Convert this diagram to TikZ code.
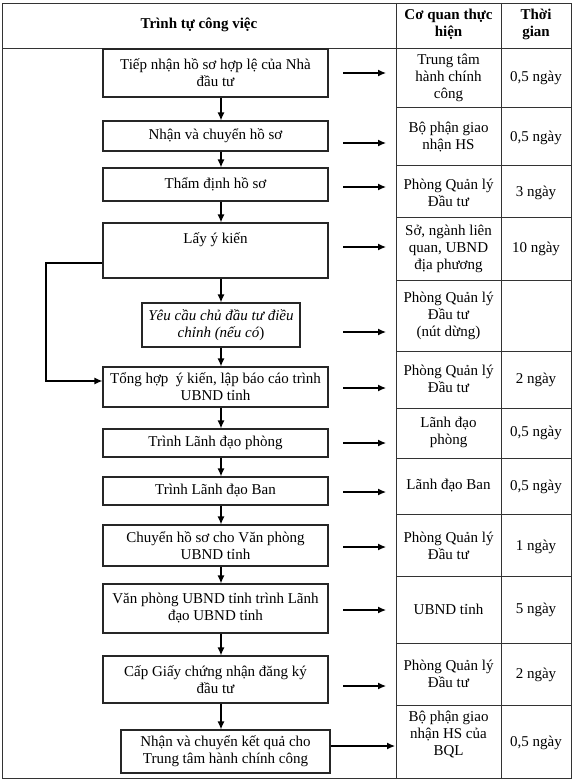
\documentclass[tikz,border=0pt]{standalone}
\usepackage{fontspec}
\setmainfont{Liberation Serif}
\usetikzlibrary{arrows.meta}
\begin{document}
\begin{tikzpicture}[x=1pt,y=-1pt,
  txt/.style={font=\fontsize{15}{17}\selectfont},
  box/.style={draw=black!85,line width=1.2pt,inner sep=0pt,align=center,txt,minimum width=225pt},
  cell/.style={align=center,inner sep=0pt,txt},
  head/.style={align=center,inner sep=0pt,font=\bfseries\fontsize{15}{17}\selectfont},
  grid/.style={draw=black!80,line width=0.9pt},
  arr/.style={line width=1.2pt,-{Latex[length=8pt,width=7pt]}},
  link/.style={line width=1.3pt,-{Latex[length=8pt,width=7pt]}}]
\useasboundingbox (0,0) rectangle (575,784);
% table
\draw[grid] (2,3) rectangle (571,778);
\draw[grid] (2,48) -- (571,48);
\draw[grid] (396,3) -- (396,778);
\draw[grid] (501,3) -- (501,778);
\foreach \y in {107,165,217,280,351,408,458,514,576,643,705}
  \draw[grid] (396,\y) -- (571,\y);
% header
\node[head] (h1) at (199,25) {Trình tự công việc};
\node[head] (h2) at (448.5,24) {Cơ quan thực\\hiện};
\node[head] (h3) at (536,24) {Thời\\gian};
% boxes
\node[box,minimum height=48pt] (b1) at (215.5,73) {Tiếp nhận hồ sơ hợp lệ của Nhà\\đầu tư};
\node[box,minimum height=30pt] (b2) at (215.5,136) {Nhận và chuyển hồ sơ};
\node[box,minimum height=33pt] (b3) at (215.5,184.5) {Thẩm định hồ sơ};
\node[box,minimum height=55pt,text height=11pt,text depth=25pt] (b4) at (215.5,250.5) {Lấy ý kiến};
\node[box,minimum height=44pt,minimum width=158pt] (b5) at (221,325) {\itshape Yêu cầu chủ đầu tư điều\\\itshape chỉnh (nếu có\upshape)};
\node[box,minimum height=40pt] (b6) at (215.5,387) {Tổng hợp\ \ ý kiến, lập báo cáo trình\\UBND tỉnh};
\node[box,minimum height=28pt] (b7) at (215.5,443) {Trình Lãnh đạo phòng};
\node[box,minimum height=28pt] (b8) at (215.5,491) {Trình Lãnh đạo Ban};
\node[box,minimum height=41pt] (b9) at (215.5,545.5) {Chuyển hồ sơ cho Văn phòng\\UBND tỉnh};
\node[box,minimum height=49pt] (b10) at (215.5,608.5) {Văn phòng UBND tỉnh trình Lãnh\\đạo UBND tỉnh};
\node[box,minimum height=47pt] (b11) at (215.5,679.5) {Cấp Giấy chứng nhận đăng ký\\đầu tư};
\node[box,minimum height=43pt,minimum width=209pt] (b12) at (225.5,751.5) {Nhận và chuyển kết quả cho\\Trung tâm hành chính công};
% agency cells
\node[cell] (c1) at (448.5,78) {Trung tâm\\hành chính\\công};
\node[cell] (c2) at (448.5,137) {Bộ phận giao\\nhận HS};
\node[cell] (c3) at (448.5,193) {Phòng Quản lý\\Đầu tư};
\node[cell] (c4) at (448.5,249) {Sở, ngành liên\\quan, UBND\\địa phương};
\node[cell] (c5) at (448.5,316) {Phòng Quản lý\\Đầu tư\\(nút dừng)};
\node[cell] (c6) at (448.5,379) {Phòng Quản lý\\Đầu tư};
\node[cell] (c7) at (448.5,432) {Lãnh đạo\\phòng};
\node[cell] (c8) at (448.5,486) {Lãnh đạo Ban};
\node[cell] (c9) at (448.5,546) {Phòng Quản lý\\Đầu tư};
\node[cell] (c10) at (448.5,609) {UBND tỉnh};
\node[cell] (c11) at (448.5,674) {Phòng Quản lý\\Đầu tư};
\node[cell] (c12) at (448.5,734) {Bộ phận giao\\nhận HS của\\BQL};
% time cells
\node[cell] (t1) at (536,78) {0,5 ngày};
\node[cell] (t2) at (536,138) {0,5 ngày};
\node[cell] (t3) at (536,193) {3 ngày};
\node[cell] (t4) at (536,249) {10 ngày};
\node[cell] (t6) at (536,380) {2 ngày};
\node[cell] (t7) at (536,433) {0,5 ngày};
\node[cell] (t8) at (536,487) {0,5 ngày};
\node[cell] (t9) at (536,547) {1 ngày};
\node[cell] (t10) at (536,610) {5 ngày};
\node[cell] (t11) at (536,675) {2 ngày};
\node[cell] (t12) at (536,743) {0,5 ngày};
% side arrows
\foreach \i/\y in {1/73,2/143,3/187,4/247,5/332,6/388,7/443,8/492,9/547,10/610,11/686}{
  \coordinate (s\i) at (343,\y);
  \coordinate (e\i) at (386,\y);
  \draw[arr] (s\i) -- (e\i);
}
\coordinate (e12) at (395,746);
\draw[arr] (b12.east |- e12) -- (e12);
% vertical flow
\coordinate (ax) at (221,0);
\foreach \a/\b in {b1/b2,b2/b3,b3/b4,b4/b5,b5/b6,b6/b7,b7/b8,b8/b9,b9/b10,b10/b11,b11/b12}
  \draw[link] (\a.south -| ax) -- (\b.north -| ax);
% loop
\coordinate (l1) at (46,263);
\coordinate (l2) at (46,381);
\draw[link] (b4.west |- l1) -- (l1) -- (l2) -- (b6.west |- l2);
\end{tikzpicture}
\end{document}
